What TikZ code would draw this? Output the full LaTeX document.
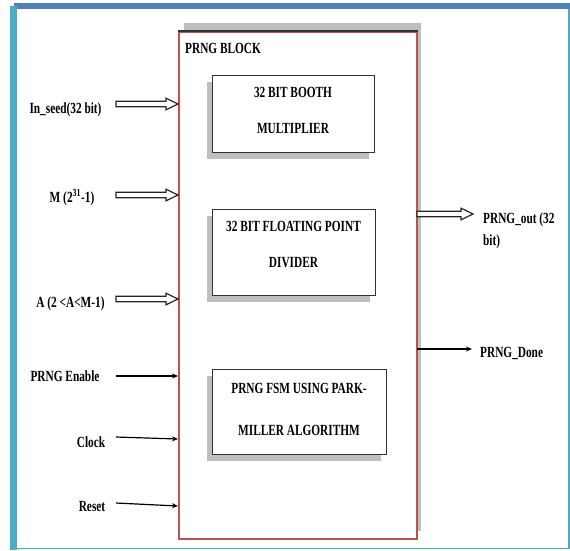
\documentclass[tikz,border=0pt]{standalone}
\usepackage{fontspec}
\newfontfamily\dfont[FakeStretch=0.73]{Liberation Serif}
\usetikzlibrary{arrows.meta,calc}
\definecolor{barblue}{HTML}{4F81BD}
\definecolor{barteal}{HTML}{4BACC6}
\definecolor{blkred}{HTML}{C0504D}
\definecolor{shadowgray}{HTML}{BFBFBF}
\definecolor{edgegray}{HTML}{333333}
\newcommand{\hollowarrow}[2]{%
  \draw[hol] ($(#1)+(0,-2.8)$) -- ($(#2)+(-12,-2.8)$) -- ($(#2)+(-12,-5.8)$) -- (#2)
    -- ($(#2)+(-12,5.8)$) -- ($(#2)+(-12,2.8)$) -- ($(#1)+(0,2.8)$) -- cycle;}
\begin{document}
\begin{tikzpicture}[x=1pt,y=-1pt,
  lbl/.style={font=\dfont\bfseries\fontsize{15.5}{18}\selectfont, inner sep=0pt},
  innerbox/.style={draw=edgegray, line width=1.3pt, fill=white},
  sig/.style={line width=1.2pt, -{Stealth[length=6pt,width=5pt]}},
  hol/.style={draw=black!85, line width=1.2pt, fill=white, line join=miter}]
\useasboundingbox (0,0) rectangle (570,550);
\fill[white] (0,0) rectangle (570,550);
% page frame
\fill[barblue] (14,2.5) rectangle (570,9);
\fill[barteal] (10,6) rectangle (16.5,550);
\draw[barteal, line width=1.2pt] (16,548.8) -- (570,548.8);
\draw[barteal, line width=1.2pt] (569,9) -- (569,549);
% main block
\fill[shadowgray] (184,23) rectangle (421,531);
\node[anchor=north west, minimum width=238pt, minimum height=507pt, inner sep=0pt,
      fill=white, draw=blkred, line width=1.6pt] (main) at (178,31) {};
\draw[edgegray, line width=1.6pt] (main.north west) -- (main.north east);
\node[lbl, anchor=base west] (title) at (185,53) {PRNG BLOCK};
% inner boxes
\fill[shadowgray] (207,82) rectangle (369,159);
\node[innerbox, anchor=north west, minimum width=162pt, minimum height=77pt, inner sep=0pt] (b1) at (212,75) {};
\node[lbl, anchor=base] (b1a) at (293,97) {32 BIT BOOTH};
\node[lbl, anchor=base] (b1b) at (293,133) {MULTIPLIER};
\fill[shadowgray] (207,216) rectangle (370,302);
\node[innerbox, anchor=north west, minimum width=163pt, minimum height=86pt, inner sep=0pt] (b2) at (212,209) {};
\node[lbl, anchor=base] (b2a) at (293.5,231) {32 BIT FLOATING POINT};
\node[lbl, anchor=base] (b2b) at (293.5,267) {DIVIDER};
\fill[shadowgray] (207,376) rectangle (381,461);
\node[innerbox, anchor=north west, minimum width=174pt, minimum height=85pt, inner sep=0pt] (b3) at (212,369) {};
\node[lbl, anchor=base] (b3a) at (299,393) {PRNG FSM USING PARK-};
\node[lbl, anchor=base] (b3b) at (299,435) {MILLER ALGORITHM};
% input labels
\node[lbl, anchor=base] (seed) at (65.5,113) {In\_seed(32 bit)};
\node[lbl, anchor=base] (mod) at (72,202) {M (2\textsuperscript{31}-1)};
\node[lbl, anchor=base] (mult) at (70.5,307) {A (2 <A<M-1)};
\node[lbl, anchor=base] (en) at (65,381) {PRNG Enable};
\node[lbl, anchor=base] (clk) at (91,447) {Clock};
\node[lbl, anchor=base] (rst) at (92,511) {Reset};
% connector points
\coordinate (s1) at (116,104); \coordinate (e1) at (178,104);
\coordinate (s2) at (116,195); \coordinate (e2) at (178,195);
\coordinate (s3) at (116,299); \coordinate (e3) at (178,299);
\coordinate (s4) at (116,376); \coordinate (e4) at (178,376);
\coordinate (s5) at (116,437); \coordinate (e5) at (178,439);
\coordinate (s6) at (116,503); \coordinate (e6) at (178,506);
\coordinate (o1) at (417,214); \coordinate (f1) at (473,214);
\coordinate (o2) at (417,349); \coordinate (f2) at (472,349);
\hollowarrow{s1}{e1}
\hollowarrow{s2}{e2}
\hollowarrow{s3}{e3}
\draw[sig] (s4) -- (e4);
\draw[sig] (s5) -- (e5);
\draw[sig] (s6) -- (e6);
\hollowarrow{o1}{f1}
\draw[sig] (o2) -- (f2);
% output labels
\node[lbl, anchor=base west] (out1) at (483,223) {PRNG\_out (32};
\node[lbl, anchor=base west] (out2) at (483,245) {bit)};
\node[lbl, anchor=base west] (done) at (480,357) {PRNG\_Done};
\end{tikzpicture}
\end{document}
